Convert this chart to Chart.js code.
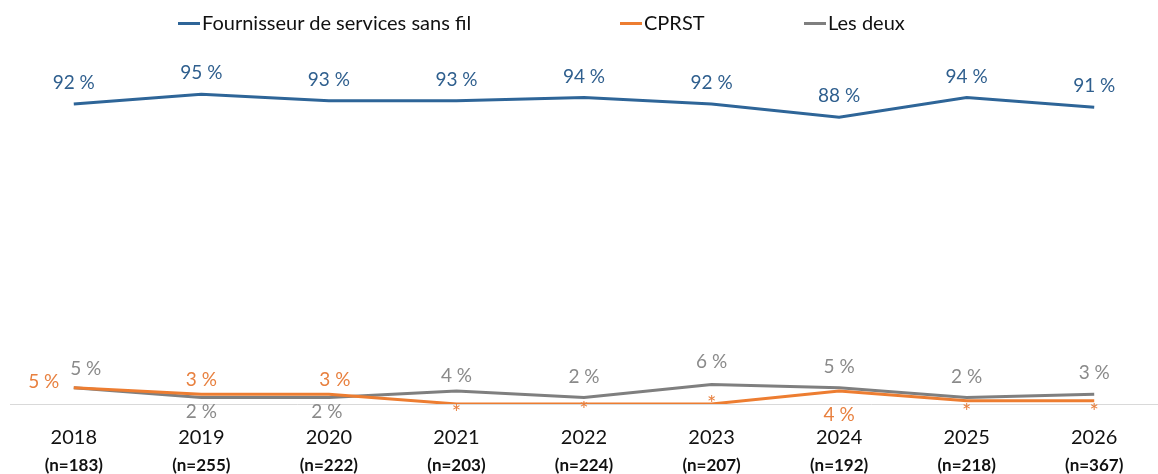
<!DOCTYPE html>
<html>
<head>
<meta charset="utf-8">
<script src="https://cdn.jsdelivr.net/npm/chart.js"></script>
<style>
  html, body { margin: 0; padding: 0; background: #fff; }
  #wrap { width: 1158px; height: 474px; position: relative; }
  #legend { position: absolute; top: 0; left: 0; width: 1158px; height: 44px; font-family: Lato, "Open Sans", sans-serif; font-size: 20px; color: #111; }
  .item { position: absolute; top: 10px; line-height: 24px; white-space: nowrap; }
  .swatch { display: inline-block; width: 22px; height: 3px; vertical-align: middle; margin-right: 2px; position: relative; top: -1px; }
</style>
</head>
<body>
<div id="wrap">
  <canvas id="myChart"></canvas>
  <div id="legend"></div>
</div>
<script>
// Data
var years = ['2018', '2019', '2020', '2021', '2022', '2023', '2024', '2025', '2026'];
var sampleSizes = ['(n=183)', '(n=255)', '(n=222)', '(n=203)', '(n=224)', '(n=207)', '(n=192)', '(n=218)', '(n=367)'];
var wireless = [92, 95, 93, 93, 94, 92, 88, 94, 91];
var cprst = [5, 3, 3, 0, 0, 0, 4, 1, 1];
var both = [5, 2, 2, 4, 2, 6, 5, 2, 3];
// '*' = value too small to report
var cprstLabels = ['5 %', '3 %', '3 %', '*', '*', '*', '4 %', '*', '*'];

var FONT = 'Lato, "Open Sans", sans-serif';

function pct(arr) {
    return arr.map(function (v) { return v + ' %'; });
}

// label offsets (dx, dy) from each point
var labelOffsets = [
    [[0, -21], [0, -21], [0, -21], [0, -21], [0, -21], [0, -21], [0, -21], [0, -21], [0, -21]],
    [[-30, -6], [0, -14], [6, -14], [0, 9], [0, 6], [0, 0], [0, 24], [0, 11], [0, 11]],
    [[12, -19], [0, 14], [-2, 14], [0, -15], [0, -21], [0, -23], [0, -21], [0, -21], [0, -21]]
];

var pointLabels = {
    id: 'pointLabels',
    afterDatasetsDraw: function (chart) {
        var ctx = chart.ctx;
        ctx.save();
        ctx.textAlign = 'center';
        ctx.textBaseline = 'middle';
        chart.data.datasets.forEach(function (ds, i) {
            var meta = chart.getDatasetMeta(i);
            ctx.fillStyle = ds.labelColor;
            meta.data.forEach(function (pt, j) {
                var off = labelOffsets[i][j];
                var txt = ds.labelText[j];
                ctx.font = (txt === '*' ? '22px ' : '19px ') + FONT;
                ctx.fillText(txt, pt.x + off[0], pt.y + off[1]);
            });
        });
        ctx.restore();
    }
};

// second line of the x labels: sample sizes in bold
var sampleLine = {
    id: 'sampleLine',
    afterDraw: function (chart) {
        var ctx = chart.ctx;
        var xs = chart.scales.x;
        ctx.save();
        ctx.font = 'bold 17px ' + FONT;
        ctx.fillStyle = '#111';
        ctx.textAlign = 'center';
        ctx.textBaseline = 'middle';
        sampleSizes.forEach(function (s, i) {
            ctx.fillText(s, xs.getPixelForTick(i), chart.chartArea.bottom + 62);
        });
        ctx.restore();
    }
};

var ctx = document.getElementById('myChart').getContext('2d');
var chart = new Chart(ctx, {
    type: 'line',
    data: {
        labels: years,
        datasets: [{
            label: 'Fournisseur de services sans fil',
            data: wireless,
            borderColor: '#2E6598',
            labelColor: '#2F5F8E',
            labelText: pct(wireless),
            borderWidth: 3,
            pointRadius: 0
        }, {
            label: 'CPRST',
            data: cprst,
            borderColor: '#ED7D31',
            labelColor: '#E8803F',
            labelText: cprstLabels,
            borderWidth: 3,
            pointRadius: 0
        }, {
            label: 'Les deux',
            data: both,
            borderColor: '#7F7F7F',
            labelColor: '#8A8A8A',
            labelText: pct(both),
            borderWidth: 3,
            pointRadius: 0
        }]
    },
    options: {
        responsive: true,
        maintainAspectRatio: false,
        animation: false,
        layout: { padding: { left: 10, right: 0, top: 78, bottom: 10 } },
        plugins: {
            legend: { display: false },
            tooltip: { enabled: false }
        },
        scales: {
            y: {
                display: false,
                min: 0,
                max: 100
            },
            x: {
                position: 'bottom',
                offset: true,
                grid: { display: false },
                border: { display: true, color: '#D9D9D9', width: 1 },
                ticks: { color: '#111', font: { family: FONT, size: 20 }, padding: 14 }
            }
        }
    },
    plugins: [pointLabels, sampleLine]
});

// HTML legend, built from the datasets
var legendLeft = [178, 620, 804];
var legendEl = document.getElementById('legend');
chart.data.datasets.forEach(function (ds, i) {
    var item = document.createElement('div');
    item.className = 'item';
    item.style.left = legendLeft[i] + 'px';
    var sw = document.createElement('span');
    sw.className = 'swatch';
    sw.style.background = ds.borderColor;
    item.appendChild(sw);
    item.appendChild(document.createTextNode(ds.label));
    legendEl.appendChild(item);
});
</script>
</body>
</html>
